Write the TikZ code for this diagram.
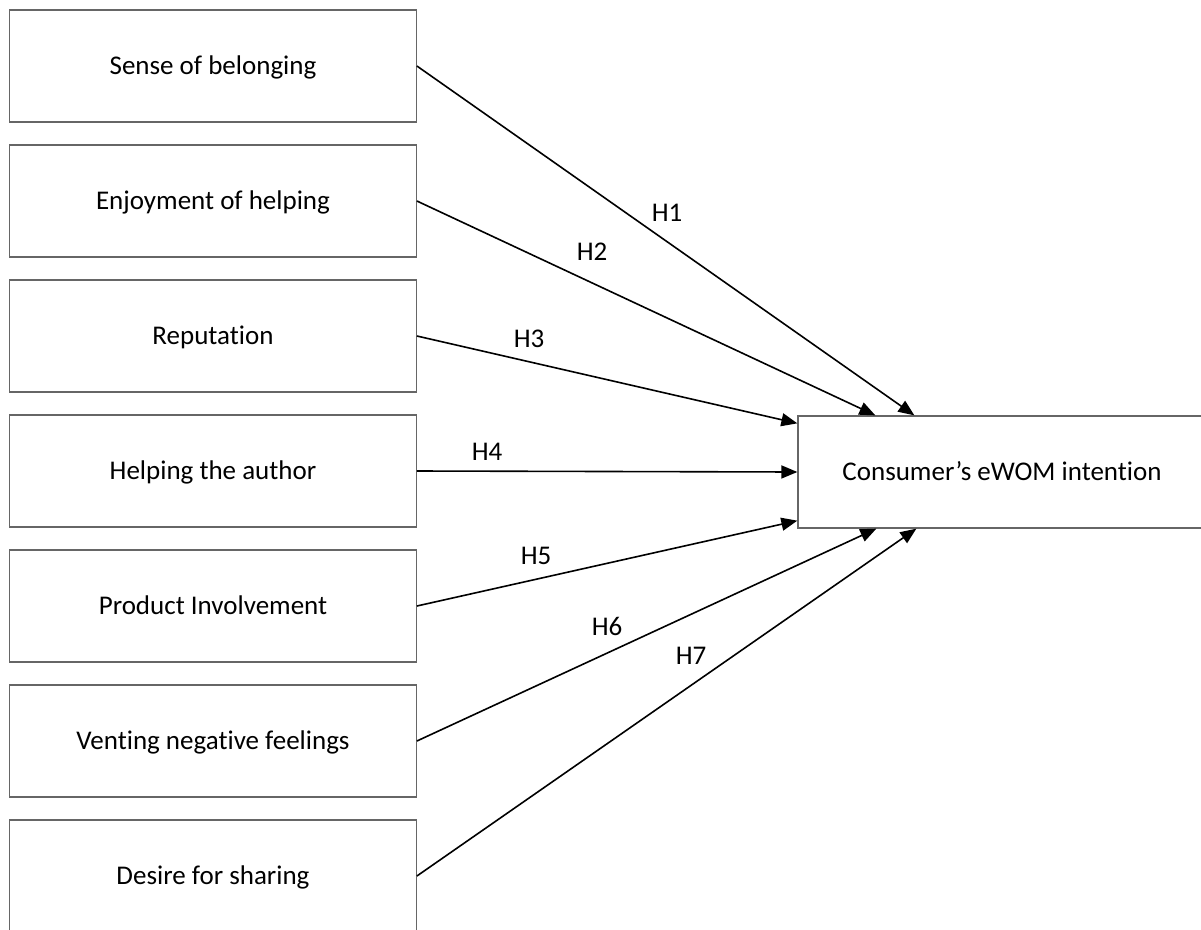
\documentclass[tikz,border=0pt]{standalone}
\usepackage{fontspec}
\setmainfont{Carlito}[Ligatures=NoCommon]
\usetikzlibrary{arrows.meta,calc}
\begin{document}
\begin{tikzpicture}[x=1pt,y=-1pt,
  factor/.style={draw=black!60, line width=1.3pt, minimum width=406.5pt, minimum height=112pt, inner sep=0pt, text height=17.4pt, text depth=0pt, font=\fontsize{27}{32}\selectfont},
  hyp/.style={font=\fontsize{27}{32}\selectfont, inner sep=0pt, text height=17.4pt, text depth=0pt},
  link/.style={line width=1.6pt, -{Triangle[length=16pt,width=13pt]}}]
\useasboundingbox (0,0) rectangle (1201,929);
\clip (0,0) rectangle (1201,929);
\fill[white] (0,0) rectangle (1201,929);
\node[factor] (f1) at (213,66) {Sense of belonging};
\node[factor] (f2) at (213,201) {Enjoyment of helping};
\node[factor] (f3) at (213,336) {Reputation};
\node[factor] (f4) at (213,471) {Helping the author};
\node[factor] (f5) at (213,606) {Product Involvement};
\node[factor] (f6) at (213,741) {Venting negative feelings};
\node[factor] (f7) at (213,876) {Desire for sharing};
\node[factor, minimum width=408pt] (R) at (1002,472) {Consumer’s eWOM intention};
\coordinate (t1) at ($(R.north west)+(117,0)$);
\coordinate (t2) at ($(R.north west)+(78,0)$);
\coordinate (t3) at ($(R.north west)+(0,8)$);
\coordinate (t5) at ($(R.south west)+(0,-8)$);
\coordinate (t6) at ($(R.south west)+(79,0)$);
\coordinate (t7) at ($(R.south west)+(119,0)$);
\draw[link] (f1.east) -- (t1);
\draw[link] (f2.east) -- (t2);
\draw[link] (f3.east) -- (t3);
\draw[link] (f4.east) -- (R.west);
\draw[link] (f5.east) -- (t5);
\draw[link] (f6.east) -- (t6);
\draw[link] (f7.east) -- (t7);
\node[hyp] (h1) at (667,213) {H1};
\node[hyp] (h2) at (592,252) {H2};
\node[hyp] (h3) at (529,339) {H3};
\node[hyp] (h4) at (487,452) {H4};
\node[hyp] (h5) at (536,556) {H5};
\node[hyp] (h6) at (607,627) {H6};
\node[hyp] (h7) at (691,656) {H7};
\end{tikzpicture}
\end{document}
